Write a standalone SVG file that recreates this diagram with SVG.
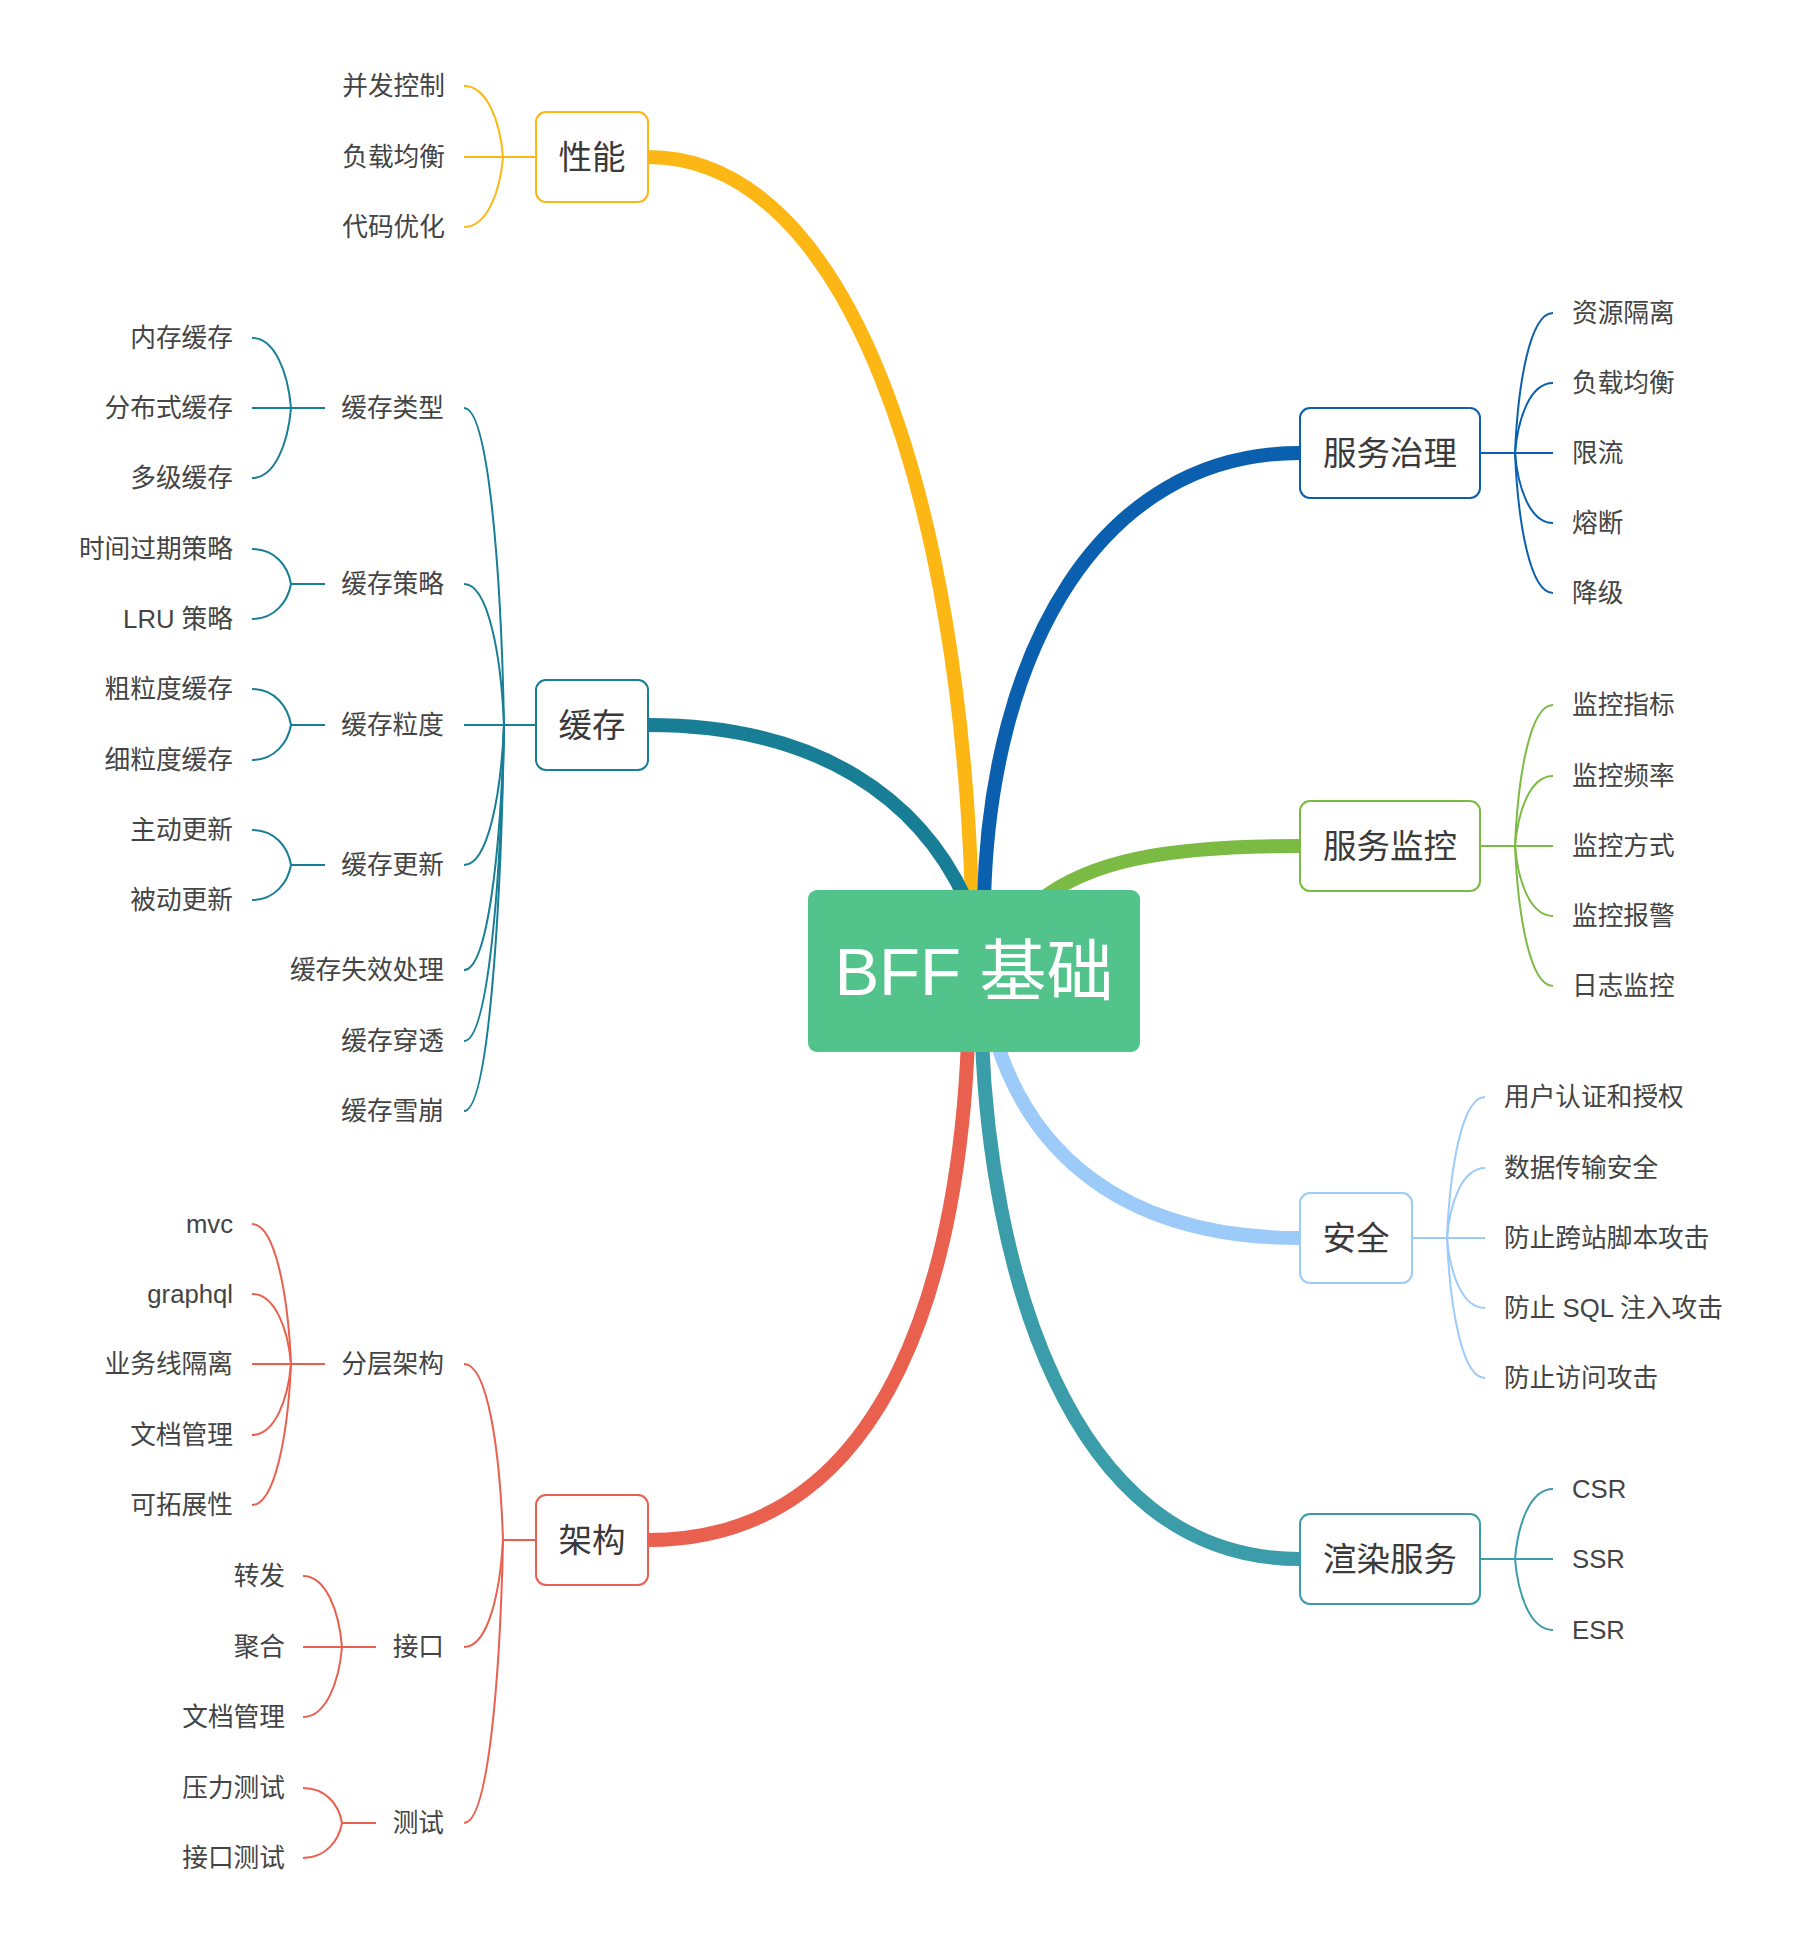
<svg xmlns="http://www.w3.org/2000/svg" width="1804" height="1942" viewBox="0 0 1804 1942">
<style>
text{font-family:"Liberation Sans","Noto Sans CJK SC",sans-serif;fill:#444}
.leaf{font-size:25.7px}
.sub{font-size:25.7px}
.node{font-size:33.5px;text-anchor:middle;fill:#3a3a3a}
.end{text-anchor:end}
.box{fill:#fff;stroke-width:2}
.thick{fill:none;stroke-width:14}
.thin{fill:none;stroke-width:2}
.yel{stroke:#FDB714}.blu{stroke:#0A60AE}.tea{stroke:#177E96}.grn{stroke:#7CBB43}
.lbl{stroke:#9CCBFA}.red{stroke:#E9604F}.tea2{stroke:#3A9DA9}
</style>
<rect width="1804" height="1942" fill="#fff"/>
<g id="connectors">
<path class="thick yel" d="M648,157 C850,157 960,500 972,900"/>
<path class="thick blu" d="M1300,453 C1100,453 990,650 984,900"/>
<path class="thick tea" d="M648,725 C820,725 920,800 966,900"/>
<path class="thick grn" d="M1300,846 C1160,846 1090,862 1040,900"/>
<path class="thick red" d="M648,1540 C900,1540 960,1250 968,1040"/>
<path class="thick tea2" d="M1300,1559 C1060,1559 990,1250 982,1040"/>
<path class="thick lbl" d="M1300,1238 C1120,1238 1030,1150 996,1040"/>
<g class="thin yel">
<path d="M464,86 C487,86 500,121 503,157"/><path d="M464,157 L536,157"/><path d="M464,227 C487,227 500,192 503,157"/>
</g>
<g class="thin tea">
<path d="M252,338 C275,338 288,373 291,408"/><path d="M252,408 L325,408"/><path d="M252,478 C275,478 288,443 291,408"/>
<path d="M252,549 C275,549 288,566 291,584"/><path d="M252,619 C275,619 288,601 291,584"/><path d="M291,584 L325,584"/>
<path d="M252,689 C275,689 288,707 291,725"/><path d="M252,760 C275,760 288,742 291,725"/><path d="M291,725 L325,725"/>
<path d="M252,830 C275,830 288,847 291,865"/><path d="M252,900 C275,900 288,882 291,865"/><path d="M291,865 L325,865"/>
<path d="M464,408 C488,408 501,566 504,725"/><path d="M464,584 C488,584 501,654 504,725"/><path d="M464,725 L536,725"/>
<path d="M464,865 C488,865 501,795 504,725"/><path d="M464,970 C488,970 501,847 504,725"/>
<path d="M464,1041 C488,1041 501,883 504,725"/><path d="M464,1111 C488,1111 501,918 504,725"/>
</g>
<g class="thin red">
<path d="M252,1224 C275,1224 288,1294 291,1364"/><path d="M252,1294 C275,1294 288,1329 291,1364"/><path d="M252,1364 L325,1364"/>
<path d="M252,1435 C275,1435 288,1399 291,1364"/><path d="M252,1505 C275,1505 288,1434 291,1364"/>
<path d="M303,1576 C326,1576 339,1611 342,1647"/><path d="M303,1647 L376,1647"/><path d="M303,1717 C326,1717 339,1682 342,1647"/>
<path d="M303,1788 C326,1788 339,1805 342,1823"/><path d="M303,1858 C326,1858 339,1840 342,1823"/><path d="M342,1823 L376,1823"/>
<path d="M464,1364 C488,1364 500,1452 503,1540"/><path d="M464,1647 C488,1647 500,1593 503,1540"/>
<path d="M464,1823 C488,1823 500,1681 503,1540"/><path d="M503,1540 L536,1540"/>
</g>
<g class="thin blu">
<path d="M1553,313 C1530,313 1518,383 1515,453"/><path d="M1553,383 C1530,383 1518,418 1515,453"/><path d="M1480,453 L1553,453"/>
<path d="M1553,523 C1530,523 1518,488 1515,453"/><path d="M1553,593 C1530,593 1518,523 1515,453"/>
</g>
<g class="thin grn">
<path d="M1553,705 C1530,705 1518,776 1515,846"/><path d="M1553,776 C1530,776 1518,811 1515,846"/><path d="M1480,846 L1553,846"/>
<path d="M1553,916 C1530,916 1518,881 1515,846"/><path d="M1553,986 C1530,986 1518,916 1515,846"/>
</g>
<g class="thin lbl">
<path d="M1485,1097 C1462,1097 1450,1168 1447,1238"/><path d="M1485,1168 C1462,1168 1450,1203 1447,1238"/><path d="M1412,1238 L1485,1238"/>
<path d="M1485,1308 C1462,1308 1450,1273 1447,1238"/><path d="M1485,1378 C1462,1378 1450,1308 1447,1238"/>
</g>
<g class="thin tea2">
<path d="M1553,1489 C1530,1489 1518,1524 1515,1559"/><path d="M1480,1559 L1553,1559"/><path d="M1553,1630 C1530,1630 1518,1594 1515,1559"/>
</g>
</g>
<g id="root">
<rect x="808" y="890" width="332" height="162" rx="9" fill="#51C38B"/>
<text x="974" y="995" font-size="67" text-anchor="middle" style="fill:#fff">BFF 基础</text>
</g>
<g id="perf">
<rect class="box yel" x="536" y="112" width="112" height="90" rx="10"/>
<text class="node" x="592" y="169">性能</text>
<text class="leaf end" x="445" y="95">并发控制</text>
<text class="leaf end" x="445" y="166">负载均衡</text>
<text class="leaf end" x="445" y="236">代码优化</text>
</g>
<g id="cache">
<rect class="box tea" x="536" y="680" width="112" height="90" rx="10"/>
<text class="node" x="592" y="737">缓存</text>
<text class="sub end" x="444" y="417">缓存类型</text>
<text class="sub end" x="444" y="593">缓存策略</text>
<text class="sub end" x="444" y="734">缓存粒度</text>
<text class="sub end" x="444" y="874">缓存更新</text>
<text class="sub end" x="444" y="979">缓存失效处理</text>
<text class="sub end" x="444" y="1050">缓存穿透</text>
<text class="sub end" x="444" y="1120">缓存雪崩</text>
<text class="leaf end" x="233" y="347">内存缓存</text>
<text class="leaf end" x="233" y="417">分布式缓存</text>
<text class="leaf end" x="233" y="487">多级缓存</text>
<text class="leaf end" x="233" y="558">时间过期策略</text>
<text class="leaf end" x="233" y="628">LRU 策略</text>
<text class="leaf end" x="233" y="698">粗粒度缓存</text>
<text class="leaf end" x="233" y="769">细粒度缓存</text>
<text class="leaf end" x="233" y="839">主动更新</text>
<text class="leaf end" x="233" y="909">被动更新</text>
</g>
<g id="arch">
<rect class="box red" x="536" y="1495" width="112" height="90" rx="10"/>
<text class="node" x="592" y="1552">架构</text>
<text class="sub end" x="444" y="1373">分层架构</text>
<text class="sub end" x="444" y="1656">接口</text>
<text class="sub end" x="444" y="1832">测试</text>
<text class="leaf end" x="233" y="1233">mvc</text>
<text class="leaf end" x="233" y="1303">graphql</text>
<text class="leaf end" x="233" y="1373">业务线隔离</text>
<text class="leaf end" x="233" y="1444">文档管理</text>
<text class="leaf end" x="233" y="1514">可拓展性</text>
<text class="leaf end" x="285" y="1585">转发</text>
<text class="leaf end" x="285" y="1656">聚合</text>
<text class="leaf end" x="285" y="1726">文档管理</text>
<text class="leaf end" x="285" y="1797">压力测试</text>
<text class="leaf end" x="285" y="1867">接口测试</text>
</g>
<g id="governance">
<rect class="box blu" x="1300" y="408" width="180" height="90" rx="10"/>
<text class="node" x="1390" y="465">服务治理</text>
<text class="leaf" x="1572" y="322">资源隔离</text>
<text class="leaf" x="1572" y="392">负载均衡</text>
<text class="leaf" x="1572" y="462">限流</text>
<text class="leaf" x="1572" y="532">熔断</text>
<text class="leaf" x="1572" y="602">降级</text>
</g>
<g id="monitor">
<rect class="box grn" x="1300" y="801" width="180" height="90" rx="10"/>
<text class="node" x="1390" y="858">服务监控</text>
<text class="leaf" x="1572" y="714">监控指标</text>
<text class="leaf" x="1572" y="785">监控频率</text>
<text class="leaf" x="1572" y="855">监控方式</text>
<text class="leaf" x="1572" y="925">监控报警</text>
<text class="leaf" x="1572" y="995">日志监控</text>
</g>
<g id="security">
<rect class="box lbl" x="1300" y="1193" width="112" height="90" rx="10"/>
<text class="node" x="1356" y="1250">安全</text>
<text class="leaf" x="1504" y="1106">用户认证和授权</text>
<text class="leaf" x="1504" y="1177">数据传输安全</text>
<text class="leaf" x="1504" y="1247">防止跨站脚本攻击</text>
<text class="leaf" x="1504" y="1317">防止 SQL 注入攻击</text>
<text class="leaf" x="1504" y="1387">防止访问攻击</text>
</g>
<g id="render">
<rect class="box tea2" x="1300" y="1514" width="180" height="90" rx="10"/>
<text class="node" x="1390" y="1571">渲染服务</text>
<text class="leaf" x="1572" y="1498">CSR</text>
<text class="leaf" x="1572" y="1568">SSR</text>
<text class="leaf" x="1572" y="1639">ESR</text>
</g>
</svg>
